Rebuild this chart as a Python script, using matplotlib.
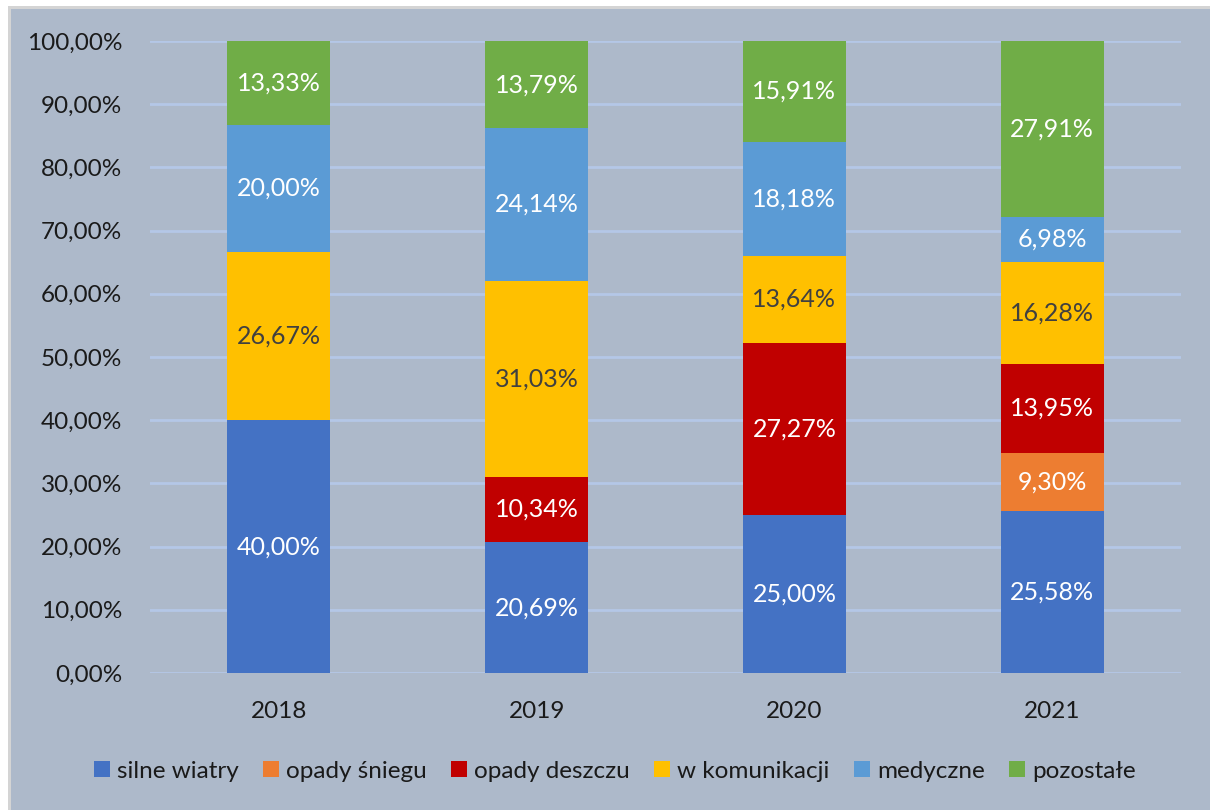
import matplotlib
matplotlib.use("Agg")
import matplotlib.pyplot as plt
from matplotlib.patches import Rectangle
import numpy as np

plt.rcParams['font.family'] = ['Lato', 'DejaVu Sans']

years = ['2018', '2019', '2020', '2021']
series = ['silne wiatry', 'opady śniegu', 'opady deszczu', 'w komunikacji', 'medyczne', 'pozostałe']
silne_wiatry = [40.00, 20.69, 25.00, 25.58]
opady_sniegu = [0, 0, 0, 9.30]
opady_deszczu = [0, 10.34, 27.27, 13.95]
w_komunikacji = [26.67, 31.03, 13.64, 16.28]
medyczne = [20.00, 24.14, 18.18, 6.98]
pozostale = [13.33, 13.79, 15.91, 27.91]

values = [silne_wiatry, opady_sniegu, opady_deszczu, w_komunikacji, medyczne, pozostale]
colors = ['#4472C4', '#ED7D31', '#C00000', '#FFC000', '#5B9BD5', '#70AD47']
text_colors = ['white', 'white', 'white', '#404040', 'white', 'white']
bg = '#ADB9CA'

fig = plt.figure(figsize=(12.1, 8.1), dpi=100)
fig.patch.set_facecolor('white')
fig.patches.append(Rectangle((8 / 1210, 0), 1, 1 - 6 / 810, transform=fig.transFigure,
                             facecolor='#D4D4D4', edgecolor='none', zorder=-2))
fig.patches.append(Rectangle((11 / 1210, 0), 1, 1 - 9 / 810, transform=fig.transFigure,
                             facecolor=bg, edgecolor='none', zorder=-1))

ax = fig.add_axes([150 / 1210, 1 - 673 / 810, 1031 / 1210, 632 / 810])
ax.set_facecolor(bg)

x = np.arange(len(years))
bottom = np.zeros(len(years))
for name, vals, c, tc in zip(series, values, colors, text_colors):
    vals = np.array(vals)
    ax.bar(x, vals, 0.4, bottom=bottom, color=c, label=name, zorder=3)
    for xi, b, v in zip(x, bottom, vals):
        if v > 0:
            ax.text(xi, b + v / 2, f'{v:.2f}%'.replace('.', ','), ha='center', va='center',
                    color=tc, fontsize=18, zorder=4)
    bottom += vals

ax.set_xlim(-0.5, 3.5)
ax.set_ylim(0, 100)
ax.set_yticks(np.arange(0, 101, 10))
ax.set_yticklabels([f'{v},00%' for v in range(0, 101, 10)], fontsize=17.5, color='#1a1a1a')
ax.set_xticks(x)
ax.set_xticklabels(years, fontsize=17.5, color='#1a1a1a')
ax.tick_params(length=0)
ax.tick_params(axis='y', pad=20)
ax.tick_params(axis='x', pad=20)
ax.grid(axis='y', color='#B4C7E7', linewidth=2, zorder=0)
for s in ax.spines.values():
    s.set_visible(False)

leg = fig.legend(loc='center', bbox_to_anchor=(615 / 1210, 1 - 771 / 810), ncol=6,
                 frameon=False, fontsize=17.5, handlelength=0.65, handleheight=0.65,
                 handletextpad=0.3, columnspacing=1.0, labelcolor='#1a1a1a')

fig.savefig('out.png', dpi=100, facecolor=fig.get_facecolor())
